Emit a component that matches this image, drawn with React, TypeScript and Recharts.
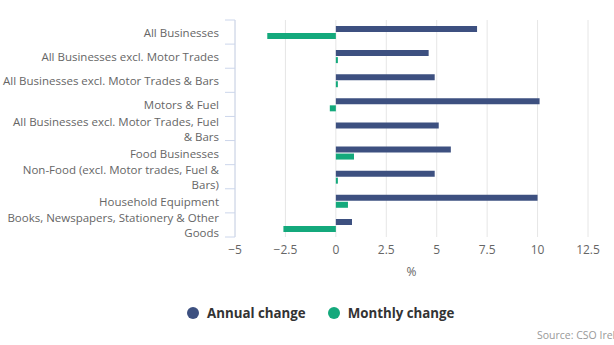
import { BarChart, Bar, XAxis, YAxis, CartesianGrid, Legend } from 'recharts'

const categories = [
  'All Businesses',
  'All Businesses excl. Motor Trades',
  'All Businesses excl. Motor Trades & Bars',
  'Motors & Fuel',
  'All Businesses excl. Motor Trades, Fuel & Bars',
  'Food Businesses',
  'Non-Food (excl. Motor trades, Fuel & Bars)',
  'Household Equipment',
  'Books, Newspapers, Stationery & Other Goods',
]
const annualChange = [7.0, 4.6, 4.9, 10.1, 5.1, 5.7, 4.9, 10.0, 0.8]
const monthlyChange = [-3.4, 0.1, 0.1, -0.3, 0, 0.9, 0.1, 0.6, -2.6]
const xTicks = [-5, -2.5, 0, 2.5, 5, 7.5, 10, 12.5]

const data = categories.map((name, i) => ({
  name,
  annual: annualChange[i],
  monthly: monthlyChange[i],
}))

const FONT = '"Open Sans", "DejaVu Sans", sans-serif'
const ANNUAL = '#3d5080'
const MONTHLY = '#14a97c'
const AXIS_W = 235
const TOP = 20
const PLOT_BOTTOM = 237
const HALF_BAND = (PLOT_BOTTOM - TOP) / categories.length / 2
const LINE_H = 15

// simple word wrap, max characters per line
function wrap(label: string, max = 40) {
  const lines: string[] = []
  let cur = ''
  for (const w of label.split(' ')) {
    const next = cur ? cur + ' ' + w : w
    if (next.length > max && cur) {
      lines.push(cur)
      cur = w
    } else {
      cur = next
    }
  }
  if (cur) lines.push(cur)
  return lines
}

function CategoryTick(props: any) {
  const { x, y, payload, index } = props
  const lines = wrap(String(payload.value))
  const startY = y - ((lines.length - 1) * LINE_H) / 2
  return (
    <g>
      <line x1={AXIS_W - 10} x2={AXIS_W} y1={y - HALF_BAND} y2={y - HALF_BAND} stroke="#ccd6eb" />
      {index === categories.length - 1 && (
        <line x1={AXIS_W - 10} x2={AXIS_W} y1={y + HALF_BAND} y2={y + HALF_BAND} stroke="#ccd6eb" />
      )}
      <text
        x={x}
        y={startY}
        textAnchor="end"
        dominantBaseline="central"
        style={{ fontFamily: FONT, fontSize: 11.5, fill: '#666' }}
      >
        {lines.map((l, i) => (
          <tspan key={i} x={x} dy={i === 0 ? 0 : LINE_H}>
            {l}
          </tspan>
        ))}
      </text>
    </g>
  )
}

function LegendRow() {
  const items = [
    { label: 'Annual change', color: ANNUAL },
    { label: 'Monthly change', color: MONTHLY },
  ]
  return (
    <div style={{ height: 40, fontFamily: FONT }}>
      <div style={{ display: 'flex', alignItems: 'center', paddingLeft: 187, paddingTop: 23, height: 16 }}>
        {items.map((it) => (
          <div key={it.label} style={{ display: 'flex', alignItems: 'center', marginRight: 22 }}>
            <span
              style={{ width: 12, height: 12, borderRadius: 6, background: it.color, display: 'inline-block', marginRight: 8 }}
            />
            <span style={{ fontSize: 13.3, fontWeight: 'bold', color: '#333' }}>{it.label}</span>
          </div>
        ))}
      </div>
    </div>
  )
}

export default function App() {
  return (
    <div style={{ position: 'absolute', left: 0, top: 0, width: 614, height: 345, overflow: 'hidden', background: '#fff' }}>
      <BarChart
        width={614}
        height={345}
        data={data}
        layout="vertical"
        margin={{ top: TOP, right: 26, bottom: 23, left: 0 }}
        barSize={6}
        barGap={1}
      >
        <CartesianGrid horizontal={false} stroke="#e6e6e6" />
        <XAxis
          type="number"
          domain={[-5, 12.5]}
          ticks={xTicks}
          axisLine={false}
          tickLine={false}
          height={45}
          tick={{ fontFamily: FONT, fontSize: 12, fill: '#666' }}
          tickFormatter={(v: number) => String(v).replace('-', '\u2212')}
          label={{ value: '%', position: 'insideBottom', offset: 6, style: { fontFamily: FONT, fontSize: 12, fill: '#666' } }}
        />
        <YAxis
          type="category"
          dataKey="name"
          width={AXIS_W}
          axisLine={{ stroke: '#ccd6eb' }}
          tickLine={false}
          tickSize={14}
          tickMargin={2}
          interval={0}
          tick={<CategoryTick />}
        />
        <Legend verticalAlign="bottom" content={<LegendRow />} />
        <Bar dataKey="annual" name="Annual change" fill={ANNUAL} isAnimationActive={false} />
        <Bar dataKey="monthly" name="Monthly change" fill={MONTHLY} isAnimationActive={false} />
      </BarChart>
      <div
        style={{
          position: 'absolute',
          left: 537,
          top: 328,
          whiteSpace: 'nowrap',
          fontFamily: FONT,
          fontSize: 10.5,
          color: '#999',
        }}
      >
        Source: CSO Ireland
      </div>
    </div>
  )
}
